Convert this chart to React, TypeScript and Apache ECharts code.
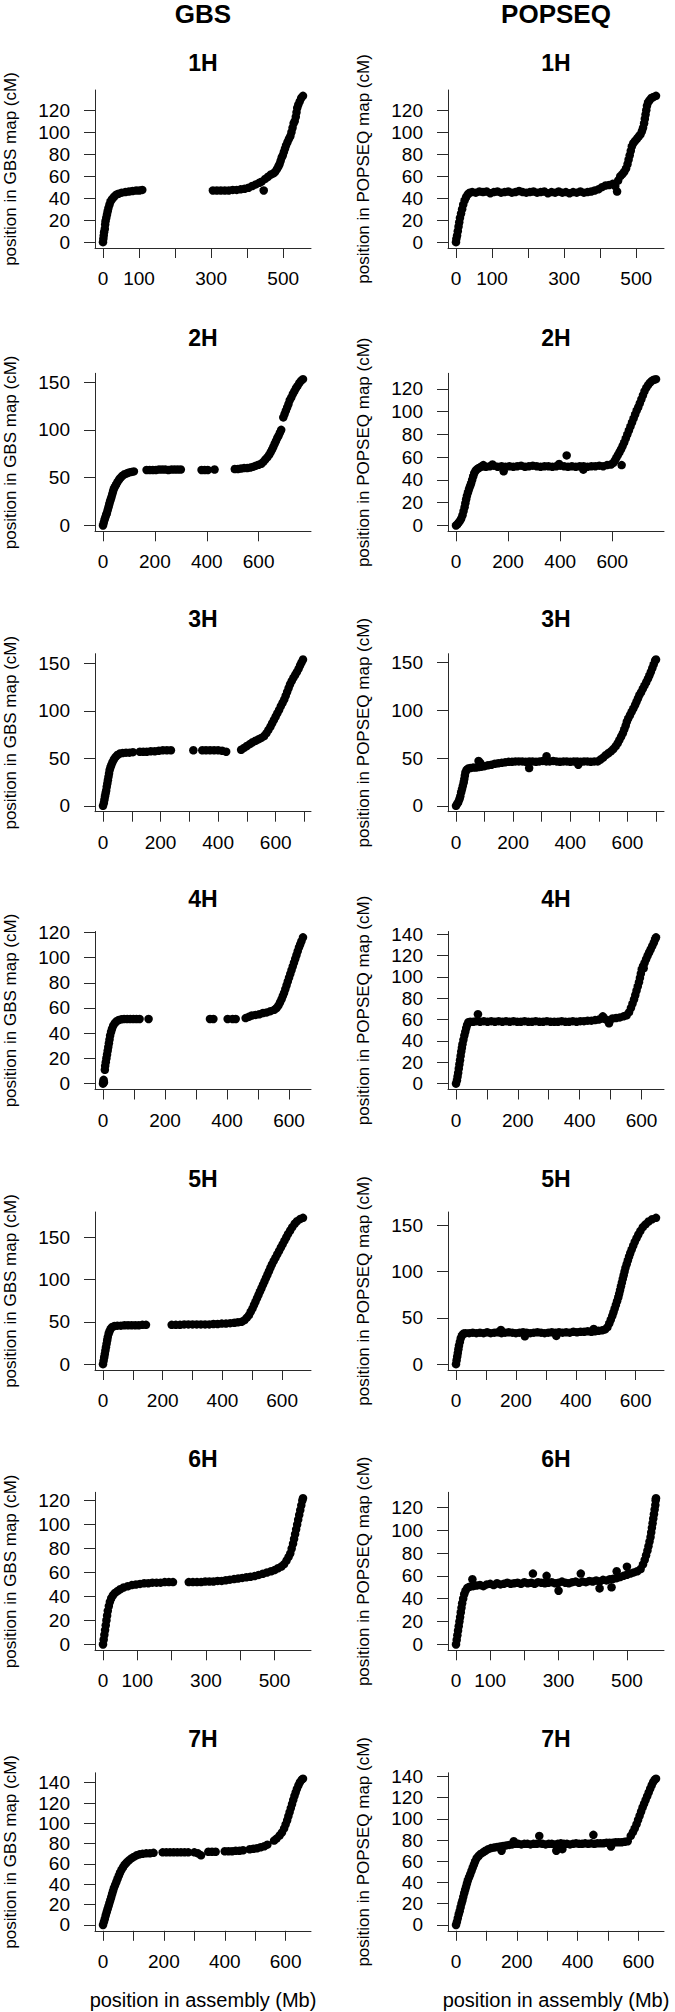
import React, { useEffect, useRef } from "react";
import * as echarts from "echarts";

type Pt = [number, number];

const CHROMOSOMES = ["1H", "2H", "3H", "4H", "5H", "6H", "7H"];
const METHODS = ["GBS", "POPSEQ"];
const Y_NAMES = ["position in GBS map (cM)", "position in POPSEQ map (cM)"];
const X_NAME = "position in assembly (Mb)";

// ---------------- data (Mb, cM) ----------------
const GBS_1H: Pt[] = [
  [0, 0], [1, 3], [2, 6], [3, 9], [5, 12], [6, 16], [7, 19], [9, 22], [11, 25], [13, 28], [15, 31], [18, 34], [21, 37], [25, 39], [30, 41], [36, 43], [43, 44], [52, 45], [62, 45.5], [72, 46], [82, 46.5], [92, 47], [101, 47], [109, 47.5],
  [305, 47], [316, 47], [327, 47], [338, 47], [349, 47], [360, 47.5], [371, 47.5], [382, 48], [393, 48.5], [404, 49.5], [414, 51], [424, 52.5], [434, 54], [440, 55], [450, 57.5], [458, 59.5], [466, 61.5], [473, 62.5], [478, 64], [483, 66.5], [487, 69], [490, 71], [493, 74], [496, 77], [499, 79], [502, 82], [505, 85], [508, 88], [512, 91], [516, 94], [520, 96.5], [523, 100], [526, 104], [529, 108], [532, 110], [535, 114], [537, 118], [539, 122], [542, 125], [546, 128], [550, 131], [555, 133], [446, 47],
];
const POP_1H: Pt[] = [
  [0, 0], [1, 3], [3, 6], [5, 10], [7, 14], [9, 18], [11, 22], [14, 26], [17, 30], [20, 34], [24, 38], [28, 41], [33, 43.5], [38, 45],
  [45, 45.5], [55, 45], [65, 46], [75, 45.5], [85, 46], [95, 44.5], [105, 45.5], [115, 46], [125, 45], [135, 45.5], [145, 46], [155, 45], [165, 45.5], [175, 46.5], [185, 45.5], [195, 45], [205, 45.5], [215, 46], [225, 45], [235, 45.5], [245, 46], [255, 44.5], [265, 45.5], [275, 45], [285, 46], [295, 45], [305, 45.5], [315, 44.5], [325, 45.5], [335, 45], [345, 46], [355, 45], [365, 45.5], [375, 46], [385, 47], [395, 48], [405, 50], [415, 51.5], [425, 52], [435, 53], [442, 51], [447, 46],
  [450, 56], [456, 60], [462, 62], [467, 64], [472, 67], [476, 71], [479, 75], [482, 79], [485, 83], [488, 87], [492, 90], [497, 92], [502, 94], [507, 96], [512, 98], [516, 101], [519, 104], [522, 108], [524, 112], [526, 116], [528, 120], [530, 124], [533, 127], [537, 129], [542, 131], [548, 132], [555, 133],
];
const GBS_2H: Pt[] = [
  [0, 0], [3, 3], [6, 6], [9, 8.5], [12, 11], [15, 13], [18, 16], [21, 19], [24, 22], [27, 25], [30, 27.5], [33, 30], [36, 33], [39, 36], [42, 38.5], [46, 40.5], [51, 43], [56, 45.5], [62, 48], [68, 50], [75, 52], [83, 53.5], [92, 54.5], [101, 55.5], [110, 56], [119, 56.5],
  [168, 58], [180, 58], [192, 58], [204, 58], [216, 58.5], [228, 58.5], [240, 58.5], [252, 58], [264, 58.5], [276, 58.5], [288, 58.5], [300, 58.5],
  [380, 58], [392, 58], [404, 58], [430, 58.5],
  [508, 59], [520, 59], [532, 59.5], [544, 60], [556, 60], [568, 60.5], [580, 61.5], [590, 62.5], [600, 63.5], [610, 64.5], [618, 66.5], [626, 69], [634, 71.5], [641, 74], [647, 77], [652, 79.5], [657, 82.5], [662, 85.5], [667, 88.5], [672, 91.5], [677, 94], [682, 97], [687, 100],
  [695, 113], [700, 116.5], [705, 120], [710, 123.5], [715, 127], [720, 131], [726, 134], [732, 137.5], [738, 140.5], [744, 143.5], [750, 146], [757, 149], [764, 151.5], [771, 153],
];
const POP_2H: Pt[] = [
  [0, 0], [5, 1], [10, 2.5], [15, 4], [20, 6], [25, 9], [29, 12.5], [33, 16], [36, 19.5], [39, 23], [42, 26], [46, 29], [50, 32], [54, 34.5], [58, 37], [62, 40], [66, 43], [70, 46], [75, 48], [81, 49.5], [88, 50.5], [95, 51.5], [103, 52],
  [115, 51.5], [130, 52], [145, 52.5], [160, 51.5], [175, 52], [190, 51.5], [205, 52], [220, 51.5], [235, 52], [250, 52.5], [265, 51.5], [280, 52], [295, 52.5], [310, 52], [325, 51.5], [340, 52], [355, 52], [370, 51.5], [385, 52], [400, 52.5], [415, 52], [430, 51.5], [445, 52], [460, 51.5], [475, 52], [490, 52], [505, 51.5], [520, 52], [535, 52], [550, 52.5], [565, 52], [580, 53], [595, 53.5],
  [183, 47.5], [425, 61.5], [489, 49], [636, 53], [396, 54], [105, 53], [140, 53.5],
  [604, 55], [610, 57], [616, 59.5], [622, 62], [628, 64.5], [634, 67], [640, 70], [646, 73], [652, 76.5], [658, 80], [664, 83.5], [670, 87], [676, 90.5], [682, 94], [688, 97.5], [694, 101], [700, 104], [706, 107.5], [712, 111], [718, 114.5], [724, 118], [731, 121], [738, 123.5], [745, 125.5], [752, 127], [760, 128], [768, 128.5],
];
const GBS_3H: Pt[] = [
  [0, 0], [3, 3], [5, 6.5], [7, 10], [9, 13], [11, 16], [13, 20], [15, 23.5], [17, 27], [19, 30.5], [21, 34], [23, 37.5], [26, 40.5], [29, 43], [33, 46], [38, 49], [44, 51.5], [50, 53.5], [58, 55], [68, 55.5], [80, 56], [92, 56], [104, 56.5],
  [128, 57], [140, 57], [152, 57], [166, 57.5], [180, 57.5], [194, 58], [208, 58.5], [222, 58.5], [236, 58.5],
  [314, 58.5],
  [345, 58.5], [358, 58.5], [372, 58.5], [386, 58.5], [400, 58.5], [414, 58], [428, 57],
  [480, 59], [490, 61], [500, 63], [510, 65], [520, 67], [530, 68.5], [540, 70], [550, 71.5], [560, 73.5], [568, 76.5], [575, 80], [582, 83.5], [588, 87], [594, 90.5], [600, 94], [606, 97.5], [612, 101], [618, 105], [624, 108.5], [630, 112], [635, 116], [640, 120], [645, 124], [650, 128], [656, 131.5], [662, 135], [668, 138], [674, 141], [680, 144.5], [685, 148], [690, 151], [695, 154],
];
const POP_3H: Pt[] = [
  [0, 0], [4, 2], [8, 4], [12, 7], [15, 10], [18, 14], [21, 17.5], [24, 21], [27, 24.5], [29, 28], [31, 31.5], [33, 35], [37, 37.5], [42, 39], [50, 39.5], [60, 40], [70, 40], [80, 40.5], [90, 41], [100, 41.5], [112, 42.5], [124, 43], [136, 44], [148, 44.5], [160, 45], [172, 45.5], [184, 46], [196, 46], [208, 46.5], [220, 46.5], [232, 46.5], [244, 46], [256, 46.5], [268, 46.5], [280, 46], [292, 46.5], [304, 47], [316, 46.5], [328, 46.5], [340, 47], [352, 46.5], [364, 46], [376, 46.5], [388, 46.5], [400, 46], [412, 46.5], [424, 46.5], [436, 46], [448, 46.5], [460, 46.5], [472, 46], [484, 46.5], [496, 46.5],
  [506, 48.5], [515, 50.5], [524, 53], [533, 55], [542, 57], [551, 59.5], [559, 62.5], [566, 65.5], [572, 69], [578, 72.5], [584, 76], [589, 80], [594, 84], [598, 88], [603, 91.5], [609, 95], [615, 98.5], [621, 102], [627, 105.5], [632, 109], [637, 112.5], [642, 116], [648, 119], [654, 122.5], [660, 126], [666, 129.5], [672, 133], [677, 136.5], [682, 140], [687, 144], [692, 148], [697, 152], [700, 153],
  [79, 47], [317, 52], [256, 39.5], [428, 43], [85, 45],
];
const GBS_4H: Pt[] = [
  [0, 0], [1, 1.5], [2, 3], [3, 1], [6, 11], [7, 14], [9, 17], [11, 20], [13, 23], [15, 26], [17, 29], [19, 32], [21, 35], [23, 38], [26, 41], [29, 43.5], [33, 46], [38, 48], [44, 49.5], [51, 50.5], [59, 51], [68, 51.3], [78, 51.3], [88, 51.3], [98, 51.3], [108, 51.3], [118, 51.3], [147, 51.3],
  [345, 51.3], [356, 51.3],
  [402, 51.3], [418, 51.3], [428, 51.3],
  [460, 52], [470, 53], [480, 54], [492, 54.5], [504, 55], [516, 56], [528, 56.5], [540, 57.5], [552, 58.5], [560, 60], [566, 62], [571, 64.5], [576, 67], [580, 69.5], [584, 72], [588, 75], [592, 78], [596, 81], [600, 84], [604, 87], [608, 90], [612, 93], [616, 96], [620, 99], [624, 102], [628, 105], [632, 108], [636, 110.5], [640, 113], [645, 116],
];
const POP_4H: Pt[] = [
  [0, 0], [3, 3], [5, 6.5], [7, 10], [9, 14], [11, 18], [13, 22], [15, 26], [17, 30], [19, 33.5], [21, 37], [24, 41], [27, 45], [30, 48.5], [33, 52], [36, 55], [40, 57.5], [46, 58], [56, 58], [66, 58.5], [78, 58], [90, 58.5], [102, 58], [114, 58.5], [126, 58], [138, 58.5], [150, 58], [162, 58.5], [174, 58], [186, 58.5], [198, 58], [210, 58], [222, 58.5], [234, 58], [246, 58], [258, 58.5], [270, 58], [282, 58], [294, 58.5], [306, 58], [318, 58], [330, 58], [342, 58.5], [354, 58], [366, 58], [378, 58.5], [390, 58], [402, 58.5], [414, 58.5], [426, 59], [438, 59], [450, 59.5], [462, 60], [474, 61], [486, 60], [496, 59], [506, 61], [518, 61.5], [530, 62], [542, 63], [552, 64],
  [560, 67], [566, 71], [571, 75], [576, 79], [580, 83], [584, 87], [588, 91], [592, 95], [595, 99], [598, 103], [601, 107], [605, 110], [610, 113], [615, 116.5], [620, 120], [625, 123], [630, 126], [635, 129], [640, 132], [644, 135], [647, 137],
  [71, 65], [475, 63], [495, 56.5], [607, 108],
];
const GBS_5H: Pt[] = [
  [0, 0], [2, 4], [4, 8], [6, 12], [8, 16], [10, 20], [12, 24], [14, 28], [16, 32], [19, 36], [22, 39], [26, 42], [31, 44], [38, 45], [48, 45.5], [60, 45.5], [72, 46], [84, 46], [96, 46], [108, 46], [120, 46], [132, 46.5], [144, 46.5],
  [230, 46.5], [244, 46.5], [258, 46.5], [272, 47], [286, 47], [300, 47], [314, 47], [328, 47], [342, 47], [356, 47], [370, 47.5], [384, 47.5], [398, 48], [412, 48], [426, 48.5], [440, 49], [452, 49.5], [464, 50],
  [474, 52], [482, 55], [489, 58], [495, 62], [501, 66], [506, 70], [511, 74], [516, 78], [521, 82], [526, 86], [531, 90], [536, 94], [541, 98], [546, 102], [551, 106], [556, 110], [561, 114], [566, 118], [572, 122], [578, 126], [584, 130], [590, 134], [596, 138], [602, 142], [608, 146], [614, 150], [620, 154], [627, 158], [634, 162], [642, 166], [650, 169], [660, 171.5], [670, 173],
];
const POP_5H: Pt[] = [
  [0, 0], [2, 4], [4, 8], [6, 12], [8, 16], [10, 20], [13, 24], [16, 28], [20, 31], [25, 33], [32, 33.5], [44, 33.5], [56, 34], [68, 33.5], [80, 34], [92, 33.5], [104, 34.5], [116, 33.5], [128, 34], [140, 34.5], [152, 33.5], [164, 34], [176, 34.5], [188, 34], [200, 33.5], [212, 34], [224, 34.5], [236, 34], [248, 33.5], [260, 34], [272, 34.5], [284, 34], [296, 33.5], [308, 34], [320, 34.5], [332, 34], [344, 34.5], [356, 34], [368, 34.5], [380, 34], [392, 35], [404, 34.5], [416, 35], [428, 35], [440, 35.5], [452, 35], [464, 35.5], [476, 36], [488, 36.5], [498, 37.5],
  [230, 30], [335, 30.5], [150, 37], [460, 38],
  [506, 40], [512, 44], [517, 48], [522, 52], [526, 56], [530, 60], [534, 64], [538, 68], [542, 72], [545, 76], [548, 80], [551, 84], [554, 88], [557, 92], [560, 96], [563, 100], [566, 104], [570, 108], [574, 112], [578, 116], [582, 120], [587, 124], [592, 128], [597, 132], [603, 136], [609, 140], [616, 144], [624, 148], [633, 151], [643, 154], [655, 156.5], [668, 158],
];
const GBS_6H: Pt[] = [
  [0, 0], [2, 4], [4, 8], [6, 12], [8, 16], [10, 20], [12, 24], [14, 28], [17, 32], [20, 35.5], [24, 38.5], [29, 41], [35, 43], [42, 44.5], [50, 46], [60, 47.5], [72, 48.5], [84, 49.5], [96, 50], [108, 50.5], [120, 51], [132, 51], [144, 51.5], [156, 51.5], [168, 51.5], [180, 52], [192, 52], [204, 52],
  [250, 52], [262, 52], [274, 52], [286, 52], [298, 52.5], [310, 52.5], [322, 52.5], [334, 53], [346, 53], [358, 53.5], [370, 54], [382, 54.5], [394, 55], [406, 55.5], [418, 56], [430, 56.5], [442, 57], [454, 58], [466, 59], [478, 60], [490, 61], [500, 62], [510, 63.5], [520, 65], [528, 67], [535, 70], [541, 73], [546, 76], [550, 80], [554, 84], [557, 88], [560, 92], [563, 96], [566, 100], [569, 104], [572, 108], [575, 112], [578, 116], [581, 120], [583, 122],
];
const POP_6H: Pt[] = [
  [0, 0], [2, 4], [4, 8], [6, 12], [8, 16], [10, 20], [12, 24], [14, 28], [16, 32], [18, 36], [21, 40], [24, 44], [28, 47], [33, 49.5], [40, 50.5], [50, 51], [60, 51.5], [70, 52], [80, 51], [90, 52.5], [100, 53], [110, 52], [120, 53.5], [130, 52.5], [140, 53], [150, 54], [160, 53], [170, 53.5], [180, 54], [190, 53], [200, 54.5], [210, 53.5], [220, 54], [230, 53], [240, 54.5], [250, 54], [260, 53.5], [270, 54], [280, 54.5], [290, 53.5], [300, 54], [310, 55], [320, 54], [330, 53.5], [340, 54.5], [350, 55], [360, 54], [370, 55], [380, 54.5], [390, 55.5], [400, 55], [410, 56], [420, 55], [430, 56.5], [440, 56], [450, 57], [460, 57.5], [470, 58], [480, 59], [490, 60], [500, 61], [510, 62], [520, 63], [530, 64], [540, 66],
  [48, 57], [225, 62], [265, 60], [365, 62], [420, 49], [455, 50], [470, 64], [500, 68], [300, 47],
  [547, 70], [552, 74], [556, 78], [560, 82], [563, 86], [566, 90], [569, 94], [571, 98], [573, 102], [575, 106], [577, 110], [579, 114], [581, 118], [583, 122], [584, 126], [585, 128],
];
const GBS_7H: Pt[] = [
  [0, 0], [3, 3], [6, 6], [9, 9.5], [12, 12.5], [15, 15.5], [18, 18.5], [21, 21.5], [24, 24.5], [27, 27.5], [30, 30.5], [33, 33.5], [36, 36.5], [40, 39.5], [44, 42.5], [48, 45.5], [52, 48.5], [56, 51.5], [61, 54.5], [66, 57], [72, 59.5], [78, 61.5], [85, 63.5], [93, 65.5], [101, 67], [110, 68.5], [120, 69.5], [130, 70], [142, 70.5], [154, 70.5], [166, 71],
  [196, 71.5], [208, 71.5], [220, 71.5], [232, 71.5], [244, 71.5], [256, 71.5], [268, 71.5], [280, 71.5],
  [300, 71.5], [312, 70.5], [322, 68.5], [346, 72], [358, 72], [370, 72],
  [400, 72.5], [412, 72.5], [424, 72.5], [436, 73], [448, 73], [460, 73.5],
  [482, 74.5], [494, 75], [506, 75.5], [518, 76.5], [530, 77.5], [540, 79],
  [562, 83], [570, 85], [580, 88], [588, 91], [595, 95], [600, 99], [605, 103], [609, 107], [613, 111], [617, 115], [621, 119], [625, 123], [629, 127], [633, 130.5], [637, 134], [642, 137.5], [647, 140.5], [653, 143], [657, 144],
];
const POP_7H: Pt[] = [
  [0, 0], [3, 3], [6, 6.5], [9, 10], [12, 13], [15, 16.5], [18, 20], [21, 23], [24, 26.5], [27, 30], [30, 33], [33, 36], [36, 39], [39, 42], [43, 45], [47, 48], [51, 51], [55, 54], [59, 57], [63, 60], [68, 63], [74, 65], [81, 67], [89, 68.5], [97, 70], [106, 71.5], [115, 72.5], [125, 73], [135, 73.5], [145, 74], [155, 74.5], [165, 75], [175, 75.5], [185, 76], [195, 76.5], [205, 76.5], [215, 76], [225, 76.5], [235, 76.5], [245, 76], [255, 76.5], [265, 76.5], [275, 77], [285, 76.5], [295, 76], [305, 76.5], [315, 76.5], [325, 76], [335, 76.5], [345, 77], [355, 76.5], [365, 76.5], [375, 76], [385, 76.5], [395, 77], [405, 76.5], [415, 76.5], [425, 77], [435, 76.5], [445, 77], [455, 76.5], [465, 77], [475, 77], [485, 77], [495, 77.5], [505, 77.5], [515, 77.5], [525, 78], [535, 78], [545, 78], [555, 78.5], [565, 79],
  [274, 84], [350, 71.5], [452, 85], [150, 70], [510, 74], [190, 79], [330, 70],
  [575, 84], [582, 87.5], [588, 91], [594, 95], [599, 99], [604, 103], [609, 107], [614, 111], [619, 114.5], [624, 118], [629, 121.5], [634, 125], [639, 128.5], [644, 132], [649, 135], [654, 137], [658, 138],
];

const GBS_DATA = [GBS_1H, GBS_2H, GBS_3H, GBS_4H, GBS_5H, GBS_6H, GBS_7H];
const POP_DATA = [POP_1H, POP_2H, POP_3H, POP_4H, POP_5H, POP_6H, POP_7H];

// ---------------- tick values / tick labels ----------------
const X_TICKS = [
  [0, 100, 200, 300, 400, 500],
  [0, 200, 400, 600],
  [0, 100, 200, 300, 400, 500, 600, 700],
  [0, 100, 200, 300, 400, 500, 600],
  [0, 100, 200, 300, 400, 500, 600],
  [0, 100, 200, 300, 400, 500],
  [0, 100, 200, 300, 400, 500, 600],
];
const X_LABELS = [
  [0, 100, 300, 500],
  [0, 200, 400, 600],
  [0, 200, 400, 600],
  [0, 200, 400, 600],
  [0, 200, 400, 600],
  [0, 100, 300, 500],
  [0, 200, 400, 600],
];
const Y20_120 = [0, 20, 40, 60, 80, 100, 120];
const Y20_140 = [0, 20, 40, 60, 80, 100, 120, 140];
const Y50_150 = [0, 50, 100, 150];
const Y_TICKS_GBS = [Y20_120, Y50_150, Y50_150, Y20_120, Y50_150, Y20_120, Y20_140];
const Y_TICKS_POP = [Y20_120, Y20_120, Y50_150, Y20_140, Y50_150, Y20_120, Y20_140];

// ---------------- layout ----------------
const W = 675;
const H = 2012;
const COL_LEFT = [95, 448];
const PLOT_W = 216;
const PLOT_H = 158;
const ROW_TOP = [90, 373.3, 653.7, 931.5, 1212, 1492.3, 1772.8];
const TITLE_Y = [62.5, 337.5, 619.2, 899.2, 1179.2, 1459.2, 1739.2];
const HEADER_Y = 13.5;
const FONT = "'Liberation Sans', Arial, Helvetica, sans-serif";
const AXIS_COLOR = "#2a2a2a";

function padRange(vals: number[]): [number, number] {
  let lo = Infinity;
  let hi = -Infinity;
  for (const v of vals) {
    if (v < lo) lo = v;
    if (v > hi) hi = v;
  }
  const d = (hi - lo) * 0.04;
  return [lo - d, hi + d];
}

function buildOption() {
  const grids: any[] = [];
  const xAxes: any[] = [];
  const yAxes: any[] = [];
  const series: any[] = [];
  const graphics: any[] = [];

  METHODS.forEach((m, c) => {
    graphics.push({
      type: "text",
      x: COL_LEFT[c] + PLOT_W / 2,
      y: HEADER_Y,
      style: {
        text: m,
        fill: "#000",
        font: `bold 26px ${FONT}`,
        textAlign: "center",
        textVerticalAlign: "middle",
        align: "center",
        verticalAlign: "middle",
      },
    });
  });

  CHROMOSOMES.forEach((chr, r) => {
    for (let c = 0; c < 2; c++) {
      const idx = r * 2 + c;
      const data = c === 0 ? GBS_DATA[r] : POP_DATA[r];
      const yTicks = c === 0 ? Y_TICKS_GBS[r] : Y_TICKS_POP[r];
      const [xMin, xMax] = padRange(data.map((p) => p[0]));
      const [yMin, yMax] = padRange(data.map((p) => p[1]));

      grids.push({
        left: COL_LEFT[c],
        top: ROW_TOP[r],
        width: PLOT_W,
        height: PLOT_H,
        containLabel: false,
        outerBoundsMode: "none",
      });
      xAxes.push({
        type: "value",
        gridIndex: idx,
        min: xMin,
        max: xMax,
        splitLine: { show: false },
        axisLine: { show: true, onZero: false, lineStyle: { color: AXIS_COLOR, width: 1 } },
        axisTick: { show: true, length: 10, customValues: X_TICKS[r], lineStyle: { color: AXIS_COLOR, width: 1 } },
        axisLabel: {
          show: true,
          customValues: X_LABELS[r],
          margin: 21,
          fontSize: 19,
          fontFamily: FONT,
          color: "#000",
        },
        name: r === CHROMOSOMES.length - 1 ? X_NAME : "",
        nameLocation: "middle",
        nameGap: 59,
        nameTextStyle: { fontSize: 20, fontFamily: FONT, color: "#000" },
      });
      yAxes.push({
        type: "value",
        gridIndex: idx,
        min: yMin,
        max: yMax,
        splitLine: { show: false },
        axisLine: { show: true, onZero: false, lineStyle: { color: AXIS_COLOR, width: 1 } },
        axisTick: { show: true, length: 11, customValues: yTicks, lineStyle: { color: AXIS_COLOR, width: 1 } },
        axisLabel: {
          show: true,
          customValues: yTicks,
          margin: 25,
          fontSize: 19,
          fontFamily: FONT,
          color: "#000",
        },
        name: Y_NAMES[c],
        nameLocation: "middle",
        nameRotate: 90,
        nameGap: 76,
        nameTextStyle: { fontSize: 17, fontFamily: FONT, color: "#000" },
      });
      series.push({
        type: "scatter",
        name: `${METHODS[c]} ${chr}`,
        xAxisIndex: idx,
        yAxisIndex: idx,
        data,
        symbol: "circle",
        symbolSize: 8.5,
        itemStyle: { color: "#000", opacity: 1 },
        silent: true,
        clip: false,
      });
      graphics.push({
        type: "text",
        x: COL_LEFT[c] + PLOT_W / 2,
        y: TITLE_Y[r],
        style: {
          text: chr,
          fill: "#000",
          font: `bold 23px ${FONT}`,
          textAlign: "center",
          textVerticalAlign: "middle",
          align: "center",
          verticalAlign: "middle",
        },
      });
    }
  });

  return {
    animation: false,
    backgroundColor: "#ffffff",
    textStyle: { fontFamily: FONT },
    grid: grids,
    xAxis: xAxes,
    yAxis: yAxes,
    series,
    graphic: { elements: graphics },
  };
}

export default function App() {
  const ref = useRef<HTMLDivElement>(null);
  useEffect(() => {
    if (!ref.current) return;
    const chart = echarts.init(ref.current, undefined, { renderer: "svg", width: W, height: H });
    chart.setOption(buildOption() as any);
    return () => {
      chart.dispose();
    };
  }, []);
  return (
    <div
      ref={ref}
      style={{ position: "absolute", left: 0, top: 0, width: W, height: H, background: "#fff" }}
    />
  );
}
